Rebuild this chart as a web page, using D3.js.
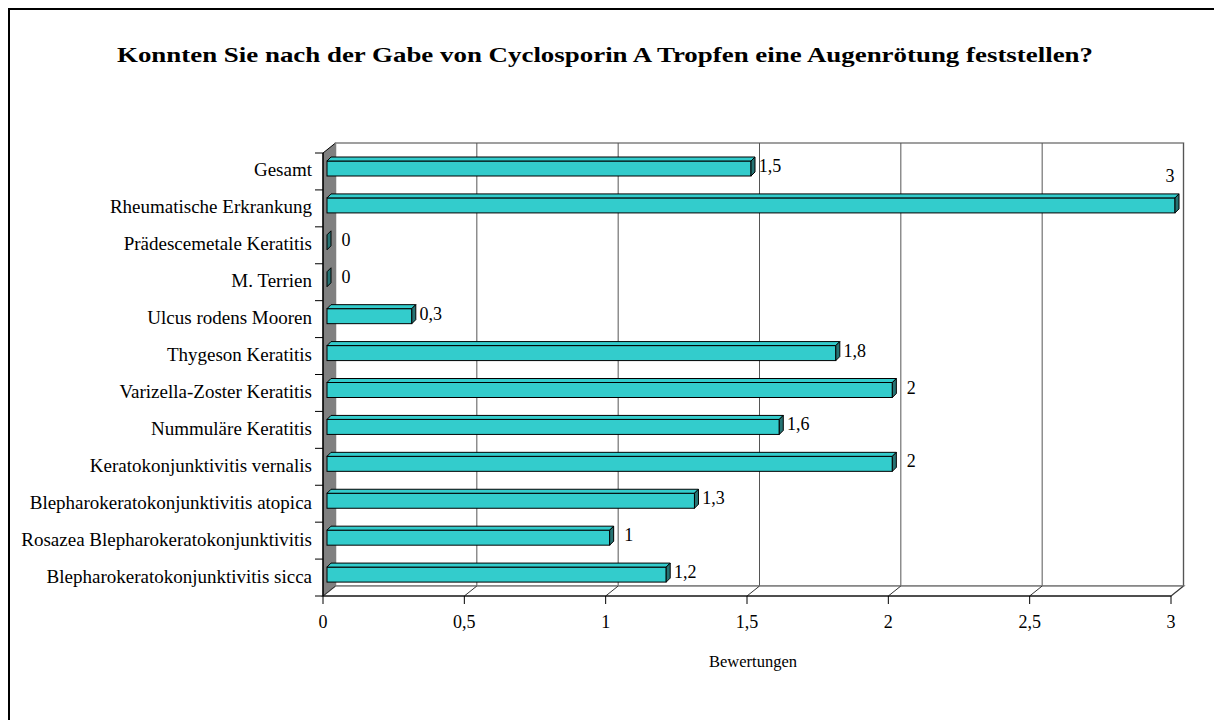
<!DOCTYPE html>
<html><head><meta charset="utf-8">
<script src="https://cdn.jsdelivr.net/npm/d3@7"></script>
<style>body{margin:0;background:#fff}svg{display:block}text{font-family:"Liberation Serif","Times New Roman",serif}</style>
</head><body><svg id="c" width="1214" height="720"></svg>
<script>
const categories = ["Gesamt","Rheumatische Erkrankung","Prädescemetale Keratitis","M. Terrien","Ulcus rodens Mooren","Thygeson Keratitis","Varizella-Zoster Keratitis","Nummuläre Keratitis","Keratokonjunktivitis vernalis","Blepharokeratokonjunktivitis atopica","Rosazea Blepharokeratokonjunktivitis","Blepharokeratokonjunktivitis sicca"];
const values = [1.5,3,0,0,0.3,1.8,2,1.6,2,1.3,1,1.2];
const valueLabels = ["1,5","3","0","0","0,3","1,8","2","1,6","2","1,3","1","1,2"];
const ticks = [0,0.5,1,1.5,2,2.5,3];
const tickLabels = ["0","0,5","1","1,5","2","2,5","3"];
const title = "Konnten Sie nach der Gabe von Cyclosporin A Tropfen eine Augenrötung feststellen?";
const axisTitle = "Bewertungen";

const FS = 18;
const svg = d3.select("#c");
svg.append("rect").attr("x",9).attr("y",9).attr("width",1300).attr("height",800)
  .attr("fill","none").attr("stroke","#000").attr("stroke-width",2);

const x = d3.scaleLinear().domain([0,3]).range([323,1171]);
const pTop = 153, pBottom = 596;
const y = d3.scaleBand().domain(categories).range([pTop,pBottom]).padding(0);
const DX = 12.5, DY = -10;
const g = svg.append("g");

g.append("path").attr("d",`M${x(0)},${pTop}L${x(0)+DX},${pTop+DY}L${x(0)+DX},${pBottom+DY}L${x(0)},${pBottom}Z`)
  .attr("fill","#808080").attr("stroke","#000").attr("stroke-width",1);
g.append("rect").attr("x",x(0)+DX).attr("y",pTop+DY).attr("width",x(3)-x(0)).attr("height",pBottom-pTop)
  .attr("fill","#fff").attr("stroke","#808080").attr("stroke-width",1.5);
g.selectAll(".grid").data(ticks.slice(1)).join("line")
  .attr("x1",d=>x(d)+DX).attr("x2",d=>x(d)+DX).attr("y1",pTop+DY).attr("y2",pBottom+DY)
  .attr("stroke","#555").attr("stroke-width",1);
g.append("path").attr("d",`M${x(0)},${pBottom}L${x(3)},${pBottom}L${x(3)+DX},${pBottom+DY}L${x(0)+DX},${pBottom+DY}Z`)
  .attr("fill","#fff").attr("stroke","#808080").attr("stroke-width",1.5);
g.selectAll(".fdiag").data(ticks).join("line")
  .attr("x1",d=>x(d)).attr("x2",d=>x(d)+DX).attr("y1",pBottom).attr("y2",pBottom+DY)
  .attr("stroke","#333").attr("stroke-width",1);
g.append("line").attr("x1",x(0)).attr("x2",x(3)).attr("y1",pBottom).attr("y2",pBottom).attr("stroke","#000").attr("stroke-width",1.2);
g.append("line").attr("x1",x(0)).attr("x2",x(0)).attr("y1",pTop).attr("y2",pBottom).attr("stroke","#000").attr("stroke-width",1.2);
g.selectAll(".xt").data(ticks).join("line")
  .attr("x1",d=>x(d)).attr("x2",d=>x(d)).attr("y1",pBottom).attr("y2",pBottom+8).attr("stroke","#000");
const bounds = categories.map(c=>y(c)).concat([pBottom]);
g.selectAll(".yt").data(bounds).join("line")
  .attr("x1",x(0)-8).attr("x2",x(0)).attr("y1",d=>d).attr("y2",d=>d).attr("stroke","#000");
g.selectAll(".xl").data(ticks).join("text")
  .attr("x",d=>x(d)).attr("y",628).attr("text-anchor","middle").attr("font-size",FS)
  .text((d,i)=>tickLabels[i]);
g.selectAll(".yl").data(categories).join("text")
  .attr("x",312).attr("y",d=>y(d)+y.bandwidth()/2+5).attr("text-anchor","end").attr("font-size",19)
  .text(d=>d);

const bdx = 4, bdy = -4, off = 4, h = 15;
const bars = g.selectAll(".bar").data(categories).join("g");
bars.each(function(c,i){
  const v = values[i];
  const x0 = x(0)+off, x1 = x(v)+off;
  const y0 = y(c)+8, y1 = y0+h;
  const s = d3.select(this);
  if (x1-x0>0.5){
    s.append("rect").attr("x",x0).attr("y",y0).attr("width",x1-x0).attr("height",h)
      .attr("fill","#33CCCC").attr("stroke","#000").attr("stroke-width",1);
    s.append("path").attr("d",`M${x0},${y0}L${x0+bdx},${y0+bdy}L${x1+bdx},${y0+bdy}L${x1},${y0}Z`)
      .attr("fill","#33CCCC").attr("stroke","#000").attr("stroke-width",1);
  }
  s.append("path").attr("d",`M${x1},${y0}L${x1+bdx},${y0+bdy}L${x1+bdx},${y1+bdy}L${x1},${y1}Z`)
    .attr("fill","#267373").attr("stroke","#000").attr("stroke-width",1);
  let lx = x1+bdx+15, ly = y(c)+19;
  if (lx+8 > x(3)+DX){ lx = x1+bdx-9; ly = y(c)-8; }
  s.append("text").attr("x",lx).attr("y",ly).attr("text-anchor","middle").attr("font-size",FS).text(valueLabels[i]);
});

svg.append("text").attr("x",605).attr("y",62).attr("text-anchor","middle").attr("font-size",22)
  .attr("font-weight","bold").attr("textLength",976).attr("lengthAdjust","spacingAndGlyphs").text(title);
svg.append("text").attr("x",753).attr("y",667).attr("text-anchor","middle").attr("font-size",16.5).text(axisTitle);
</script></body></html>
